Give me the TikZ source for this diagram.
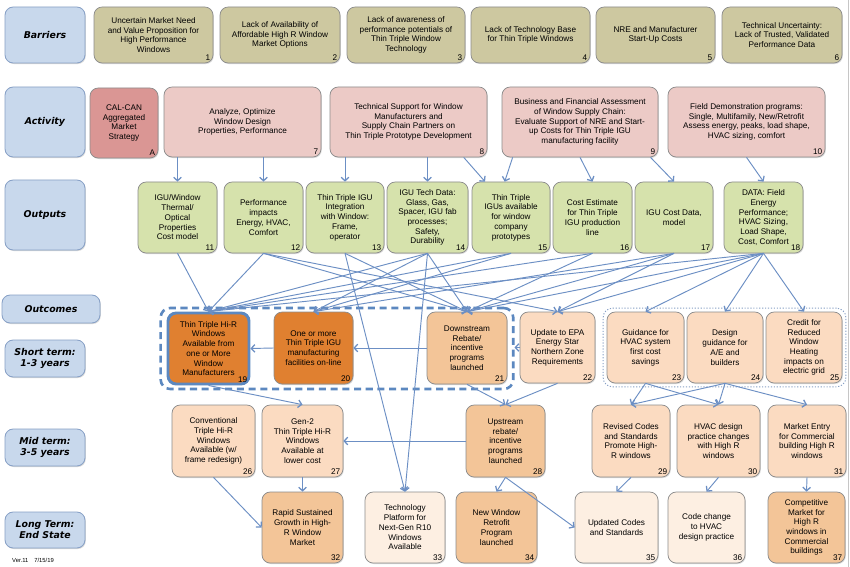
\documentclass[tikz,border=0pt]{standalone}
\usepackage{fontspec}
\setmainfont{Liberation Sans}
\newfontfamily\lblfont{DejaVu Sans}
\usetikzlibrary{calc,fit,shadows,arrows.meta}

\definecolor{lblfill}{RGB}{200,216,236}
\definecolor{lblline}{RGB}{135,160,198}
\definecolor{barfill}{RGB}{205,200,160}
\definecolor{actfill}{RGB}{236,202,198}
\definecolor{actdarkfill}{RGB}{218,150,148}
\definecolor{outfill}{RGB}{214,226,172}
\definecolor{hotfill}{RGB}{224,128,48}
\definecolor{midfill}{RGB}{243,197,152}
\definecolor{ltfill}{RGB}{251,219,193}
\definecolor{palefill}{RGB}{253,239,226}
\definecolor{arrline}{RGB}{108,143,196}
\definecolor{boxline}{RGB}{140,140,140}
\definecolor{frameblue}{RGB}{92,136,192}

\tikzset{
  box/.style={draw=boxline, line width=0.6pt, rounded corners=7pt, align=center, inner sep=2pt,
    font=\fontsize{7}{8.3}\selectfont, drop shadow={shadow xshift=0.7pt, shadow yshift=-0.9pt, opacity=0.3}},
  barbox/.style={box, fill=barfill},
  actbox/.style={box, fill=actfill},
  actdark/.style={box, fill=actdarkfill},
  outbox/.style={box, fill=outfill},
  hotbox/.style={box, fill=hotfill},
  midbox/.style={box, fill=midfill},
  ltbox/.style={box, fill=ltfill},
  palebox/.style={box, fill=palefill},
  num/.style={anchor=south east, inner sep=2.5pt, font=\fontsize{7}{8}\selectfont},
  lblbox/.style={draw=lblline, fill=lblfill, line width=0.7pt, rounded corners=7pt, align=center,
    font=\lblfont\bfseries\itshape\fontsize{8}{9.6}\selectfont, drop shadow={shadow xshift=0.7pt, shadow yshift=-0.9pt, opacity=0.3}},
  dashframe/.style={draw=frameblue, line width=2.2pt, dash pattern=on 6pt off 4pt, rounded corners=8pt, inner xsep=5pt, inner ysep=3pt},
  dotframe/.style={draw=lblline, line width=0.8pt, dash pattern=on 1pt off 1.5pt, rounded corners=8pt, inner sep=3pt},
  arr/.style={draw=arrline, line width=0.8pt, -{Straight Barb[length=3pt, width=6.5pt, line width=1.1pt]}}
}

% box from corner (x1,y1) to corner (x2,y2), in pixels of the page
\def\bx(#1)[#2](#3,#4)(#5,#6)#7{\node[#2, minimum width={(#5-#3)*0.03cm}, minimum height={(#6-#4)*0.03cm}] (#1) at ({(#3+#5)/2},{(#4+#6)/2}) {#7};}

\begin{document}
\begin{tikzpicture}[x=0.03cm, y=-0.03cm]
			%%%%% START %%%%%
			\path[use as bounding box, fill=white] (0,0) rectangle (850,567);
			\draw[boxline!50, line width=0.6pt] (848.5,0) -- (848.5,567);
			
			% row labels
			\bx(lbar)[lblbox](5,7)(85,63){Barriers}
			\bx(lact)[lblbox](5,87)(85,157){Activity}
			\bx(lout)[lblbox](5,180)(85,250){Outputs}
			\bx(lcome)[lblbox](2,295)(100,323){Outcomes}
			\bx(lshort)[lblbox](5,340)(85,377){Short term:\\1-3 years}
			\bx(lmid)[lblbox](5,429)(85,466){Mid term:\\3-5 years}
			\bx(llong)[lblbox](5,512)(85,548){Long Term:\\End State}
			\node[anchor=west, inner sep=0pt, font=\fontsize{5}{6}\selectfont] (ver) at (12,560) {Ver.11\quad 7/15/19};
			
			% barriers
			\bx(b1)[barbox, label={[num]south east:1}](94,7)(213,63){Uncertain Market Need\\and Value Proposition for\\High Performance\\Windows}
			\bx(b2)[barbox, label={[num]south east:2}](220,7)(340,63){Lack of Availability of\\Affordable High R Window\\Market Options}
			\bx(b3)[barbox, label={[num]south east:3}](347,7)(465,63){Lack of awareness of\\performance potentials of\\Thin Triple Window\\Technology}
			\bx(b4)[barbox, label={[num]south east:4}](471,7)(590,63){Lack of Technology Base\\for Thin Triple Windows}
			\bx(b5)[barbox, label={[num]south east:5}](596,7)(715,63){NRE and Manufacturer\\Start-Up Costs}
			\bx(b6)[barbox, label={[num]south east:6}](722,7)(842,63){Technical Uncertainty:\\Lack of Trusted, Validated\\Performance Data}
			
			% activity
			\bx(aA)[actdark, label={[num]south east:A}](90,88)(158,158){CAL-CAN\\Aggregated\\Market\\Strategy}
			\bx(a7)[actbox, label={[num]south east:7}](164,87)(321,157){Analyze, Optimize\\Window Design\\Properties, Performance}
			\bx(a8)[actbox, label={[num]south east:8}](330,87)(487,157){Technical Support for Window\\Manufacturers and\\Supply Chain Partners on\\Thin Triple Prototype Development}
			\bx(a9)[actbox, label={[num]south east:9}](502,87)(658,157){Business and Financial Assessment\\of Window Supply Chain:\\Evaluate Support of NRE and Start-\\up Costs for Thin Triple IGU\\manufacturing facility}
			\bx(a10)[actbox, label={[num]south east:10}](668,87)(825,157){Field Demonstration programs:\\Single, Multifamily, New/Retrofit\\Assess energy, peaks, load shape,\\HVAC sizing, comfort}
			
			% outputs
			\bx(n11)[outbox, label={[num]south east:11}](138,182)(217,253){IGU/Window\\Thermal/\\Optical\\Properties\\Cost model}
			\bx(n12)[outbox, label={[num]south east:12}](224,182)(303,253){Performance\\impacts\\Energy, HVAC,\\Comfort}
			\bx(n13)[outbox, label={[num]south east:13}](306,182)(384,253){Thin Triple IGU\\Integration\\with Window:\\Frame,\\operator}
			\bx(n14)[outbox, label={[num]south east:14}](387,182)(468,253){IGU Tech Data:\\Glass, Gas,\\Spacer, IGU fab\\processes;\\Safety,\\Durability}
			\bx(n15)[outbox, label={[num]south east:15}](472,182)(550,253){Thin Triple\\IGUs available\\for window\\company\\prototypes}
			\bx(n16)[outbox, label={[num]south east:16}](553,182)(632,253){Cost Estimate\\for Thin Triple\\IGU production\\line}
			\bx(n17)[outbox, label={[num]south east:17}](635,182)(713,253){IGU Cost Data,\\model}
			\bx(n18)[outbox, label={[num]south east:18}](724,182)(803,253){DATA: Field\\Energy\\Performance;\\HVAC Sizing,\\Load Shape,\\Cost, Comfort}
			
			% short term
			\bx(o19)[hotbox, draw=frameblue, line width=2.5pt, label={[num]south east:19}](168,313)(249,384){Thin Triple Hi-R\\Windows\\Available from\\one or More\\Window\\Manufacturers}
			\bx(o20)[hotbox, label={[num]south east:20}](274,312)(353,384){One or more\\Thin Triple IGU\\manufacturing\\facilities on-line}
			\bx(o21)[midbox, label={[num]south east:21}](427,312)(507,384){Downstream\\Rebate/\\incentive\\programs\\launched}
			\bx(o22)[ltbox, label={[num]south east:22}](520,312)(595,383){Update to EPA\\Energy Star\\Northern Zone\\Requirements}
			\bx(o23)[ltbox, label={[num]south east:23}](607,312)(684,383){Guidance for\\HVAC system\\first cost\\savings}
			\bx(o24)[ltbox, label={[num]south east:24}](687,312)(763,383){Design\\guidance for\\A/E and\\builders}
			\bx(o25)[ltbox, label={[num]south east:25}](766,312)(842,383){Credit for\\Reduced\\Window\\Heating\\impacts on\\electric grid}
			\node[dashframe, fit=(o19)(o21)] (stgrp) {};
			\node[dotframe, fit=(o23)(o25)] (guidegrp) {};
			
			% mid term
			\bx(m26)[ltbox, label={[num]south east:26}](172,405)(255,477){Conventional\\Triple Hi-R\\Windows\\Available (w/\\frame redesign)}
			\bx(m27)[ltbox, label={[num]south east:27}](262,405)(343,477){Gen-2\\Thin Triple Hi-R\\Windows\\Available at\\lower cost}
			\bx(m28)[midbox, label={[num]south east:28}](466,405)(545,477){Upstream\\rebate/\\incentive\\programs\\launched}
			\bx(m29)[ltbox, label={[num]south east:29}](592,405)(670,477){Revised Codes\\and Standards\\Promote High-\\R windows}
			\bx(m30)[ltbox, label={[num]south east:30}](677,405)(760,477){HVAC design\\practice changes\\with High R\\windows}
			\bx(m31)[ltbox, label={[num]south east:31}](768,405)(846,477){Market Entry\\for Commercial\\building High R\\windows}
			
			% long term
			\bx(l32)[midbox, label={[num]south east:32}](262,492)(343,563){Rapid Sustained\\Growth in High-\\R Window\\Market}
			\bx(l33)[palebox, label={[num]south east:33}](365,492)(445,563){Technology\\Platform for\\Next-Gen R10\\Windows\\Available}
			\bx(l34)[midbox, label={[num]south east:34}](456,492)(537,563){New Window\\Retrofit\\Program\\launched}
			\bx(l35)[palebox, label={[num]south east:35}](575,492)(658,563){Updated Codes\\and Standards}
			\bx(l36)[palebox, label={[num]south east:36}](668,492)(745,563){Code change\\to HVAC\\design practice}
			\bx(l37)[midbox, label={[num]south east:37}](768,492)(845,563){Competitive\\Market for\\High R\\windows in\\Commercial\\buildings}
			
			% activity -> outputs
			\draw[arr] (n11.north |- a7.south) -- (n11.north);
			\draw[arr] (n12.north |- a7.south) -- (n12.north);
			\draw[arr] (n13.north |- a8.south) -- (n13.north);
			\draw[arr] (n14.north |- a8.south) -- (n14.north);
			\draw[arr] ($(a8.south west)!.85!(a8.south east)$) -- ($(n15.north west)!.17!(n15.north east)$);
			\draw[arr] ($(a9.south west)!.07!(a9.south east)$) -- ($(n15.north west)!.42!(n15.north east)$);
			\draw[arr] (a9.south) -- (n16.north);
			\draw[arr] ($(a9.south west)!.95!(a9.south east)$) -- (n17.north);
			\draw[arr] (a10.south) -- (n18.north);
			
			% outputs -> short term
			\draw[arr] (n11.south) -- (o19.north);
			\draw[arr] (n12.south) -- (o19.north);
			\draw[arr] (n12.south) -- (o21.north);
			\draw[arr] (n12.south) -- (o22.north);
			\draw[arr] (n13.south) -- (o21.north);
			\draw[arr] (n14.south) -- (o19.north);
			\draw[arr] (n14.south) -- (o20.north);
			\draw[arr] (n14.south) -- (o21.north);
			\draw[arr] (n15.south) -- (o19.north);
			\draw[arr] (n15.south) -- (o20.north);
			\draw[arr] (n16.south) -- (o19.north);
			\draw[arr] (n16.south) -- (o21.north);
			\draw[arr] (n17.south) -- (o20.north);
			\draw[arr] (n17.south) -- (o21.north);
			\draw[arr] (n17.south) -- (o22.north);
			\draw[arr] (n18.south) -- (o19.north);
			\draw[arr] (n18.south) -- (o21.north);
			\draw[arr] (n18.south) -- (o22.north);
			\draw[arr] (n18.south) -- (o23.north);
			\draw[arr] (n18.south) -- (o24.north);
			\draw[arr] (n18.south) -- (o25.north);
			\draw[arr] (n13.south) -- (l33.north);
			\draw[arr] (n14.south) -- (l33.north);
			
			% short term chain
			\draw[arr] (o22.west) -- (stgrp.east |- o22.west);
			\draw[arr] (o21.west) -- (o20.east);
			\draw[arr] (o20.west) -- (o19.east);
			
			% short -> mid
			\draw[arr] (o19.south) -- (m27.north);
			\draw[arr] (o21.south) -- (m28.north);
			\draw[arr] (o22.south) -- (m28.north);
			\draw[arr] (o23.south) -- (m29.north);
			\draw[arr] (o23.south) -- (m30.north);
			\draw[arr] (o24.south) -- (m29.north);
			\draw[arr] (o24.south) -- (m30.north);
			\draw[arr] (o24.south) -- (m31.north);
			\draw[arr] (m28.west) -- (m27.east);
			
			% mid -> long
			\draw[arr] (m27.south) -- (l32.north);
			\draw[arr] (m26.south) -- (l32.west);
			\draw[arr] (m28.south) -- (l34.north);
			\draw[arr] (m28.south) -- (l35.west);
			\draw[arr] (m29.south) -- (l35.north);
			\draw[arr] (m30.south) -- (l36.north);
			\draw[arr] (m31.south) -- (l37.north);
			%%%%% END %%%%%
\end{tikzpicture}
\end{document}
